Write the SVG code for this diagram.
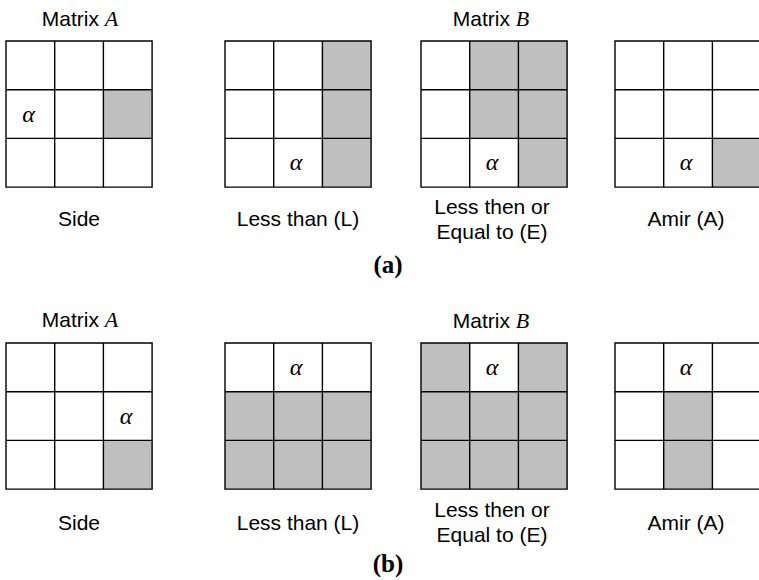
<svg xmlns="http://www.w3.org/2000/svg" xmlns:xlink="http://www.w3.org/1999/xlink" width="759" height="580" viewBox="0 0 759 580">
<style>
.bg{fill:#ffffff}
.g{fill:#bfbfbf;stroke:none}
.grid{fill:none;stroke:#000;stroke-width:1.4}
.lbl{font-family:"Liberation Sans",Arial,sans-serif;font-size:21px;fill:#000;text-anchor:middle}
.m{font-family:"Liberation Serif","DejaVu Serif",serif;font-style:italic;font-size:22px}
.al{font-family:"Liberation Serif","DejaVu Serif",serif;font-style:italic;font-size:24px;fill:#000;text-anchor:middle}
.cap{font-family:"Liberation Serif","Times New Roman",serif;font-weight:bold;font-size:25px;fill:#000;text-anchor:middle}
</style>
<defs>
<path id="grid" class="grid" d="M0,0H146.1V146.1H0Z M48.7,0V146.1 M97.4,0V146.1 M0,48.7H146.1 M0,97.4H146.1"/>
</defs>
<rect class="bg" x="0" y="0" width="759" height="580"/>

<!-- (a) -->
<text class="lbl" x="80" y="26">Matrix <tspan class="m">A</tspan></text>
<text class="lbl" x="491" y="26">Matrix <tspan class="m">B</tspan></text>

<g id="a-side" transform="translate(6,41)">
<rect class="g" x="97.4" y="48.7" width="48.7" height="48.7"/>
<use xlink:href="#grid" href="#grid"/>
<text class="al" x="22.5" y="81">α</text>
</g>
<g id="a-less" transform="translate(225,41)">
<rect class="g" x="97.4" y="0" width="48.7" height="146.1"/>
<use xlink:href="#grid" href="#grid"/>
<text class="al" x="71" y="129">α</text>
</g>
<g id="a-equal" transform="translate(421,41)">
<rect class="g" x="48.7" y="0" width="97.4" height="97.4"/>
<rect class="g" x="97.4" y="97.4" width="48.7" height="48.7"/>
<use xlink:href="#grid" href="#grid"/>
<text class="al" x="71" y="129">α</text>
</g>
<g id="a-amir" transform="translate(615,41)">
<rect class="g" x="97.4" y="97.4" width="48.7" height="48.7"/>
<use xlink:href="#grid" href="#grid"/>
<text class="al" x="71" y="129">α</text>
</g>

<text class="lbl" x="79" y="226">Side</text>
<text class="lbl" x="298" y="226">Less than (L)</text>
<text class="lbl" x="492" y="214">Less then or</text>
<text class="lbl" x="492" y="239">Equal to (E)</text>
<text class="lbl" x="686" y="226">Amir (A)</text>
<text class="cap" x="388" y="273">(a)</text>

<!-- (b) -->
<text class="lbl" x="80" y="327">Matrix <tspan class="m">A</tspan></text>
<text class="lbl" x="491" y="328">Matrix <tspan class="m">B</tspan></text>

<g id="b-side" transform="translate(6,343)">
<rect class="g" x="97.4" y="97.4" width="48.7" height="48.7"/>
<use xlink:href="#grid" href="#grid"/>
<text class="al" x="120" y="81">α</text>
</g>
<g id="b-less" transform="translate(225,343)">
<rect class="g" x="0" y="48.7" width="146.1" height="97.4"/>
<use xlink:href="#grid" href="#grid"/>
<text class="al" x="71" y="32">α</text>
</g>
<g id="b-equal" transform="translate(421,343)">
<rect class="g" x="0" y="0" width="146.1" height="146.1"/>
<rect class="bg" x="48.7" y="0" width="48.7" height="48.7"/>
<use xlink:href="#grid" href="#grid"/>
<text class="al" x="71" y="32">α</text>
</g>
<g id="b-amir" transform="translate(615,343)">
<rect class="g" x="48.7" y="48.7" width="48.7" height="97.4"/>
<use xlink:href="#grid" href="#grid"/>
<text class="al" x="71" y="32">α</text>
</g>

<text class="lbl" x="79" y="530">Side</text>
<text class="lbl" x="298" y="530">Less than (L)</text>
<text class="lbl" x="492" y="517">Less then or</text>
<text class="lbl" x="492" y="542">Equal to (E)</text>
<text class="lbl" x="686" y="530">Amir (A)</text>
<text class="cap" x="388" y="572">(b)</text>
</svg>
